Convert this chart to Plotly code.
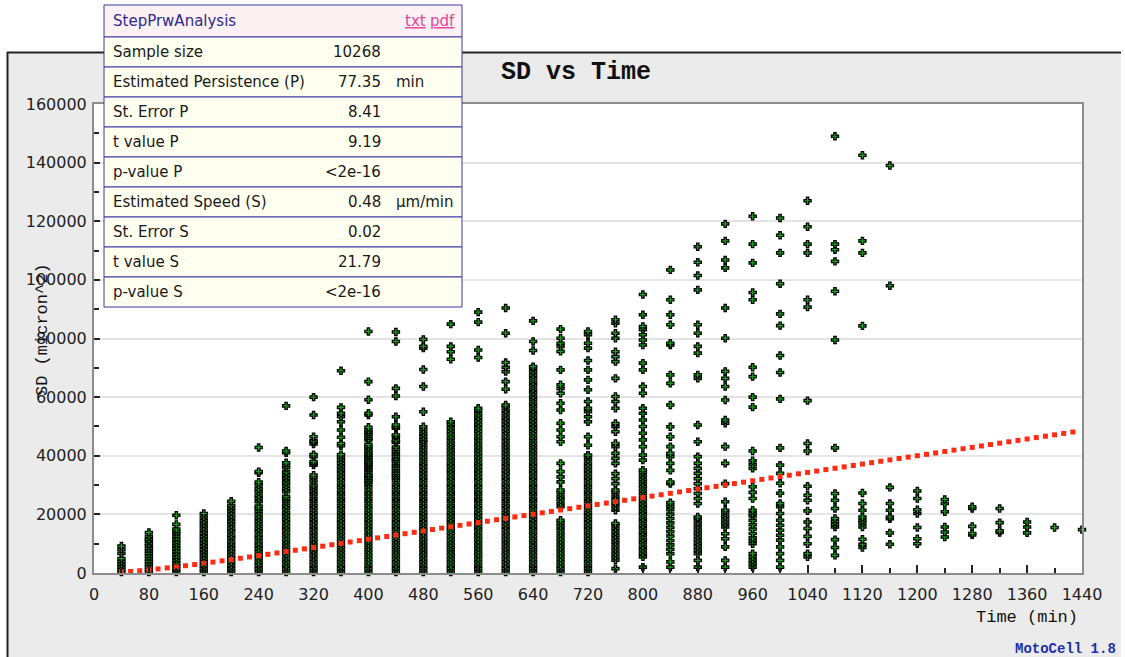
import numpy as np
import plotly.graph_objects as go

# ---- StepPrwAnalysis summary ----
sample_size = 10268
persistence_min = 77.35      # P
persistence_se = 8.41
persistence_t = 9.19
speed_um_min = 0.48          # S
speed_se = 0.02
speed_t = 21.79
p_value_text = "<2e-16"

# ---- SD (micron^2, in thousands) observed at each time lag (min) ----
sd_k_0040 = [0.3, 1.2, 2.1, 3.0, 3.9, 4.9, 6.7, 8.0, 9.2]
sd_k_0080 = [0.3, 1.2, 2.1, 3.0, 3.9, 4.8, 5.7, 6.6, 7.5, 8.4, 9.3, 10.0, 11.0, 11.5, 12.5, 13.8]
sd_k_0120 = [0.3, 1.3, 2.3, 3.3, 4.3, 5.3, 6.3, 7.3, 8.3, 9.3, 10.3, 11.3, 12.3, 13.3, 14.2, 15.0,
             16.6, 19.7]
sd_k_0160 = [0.3, 1.4, 2.5, 3.6, 4.7, 5.8, 6.9, 8.0, 9.1, 10.2, 11.3, 12.4, 13.5, 14.6, 15.7, 16.8,
             17.9, 19.1, 20.3]
sd_k_0200 = [0.3, 1.4, 2.6, 3.7, 4.9, 6.0, 7.2, 8.3, 9.5, 10.6, 11.8, 12.9, 14.1, 15.2, 16.4, 17.5,
             18.7, 19.8, 21.0, 22.1, 23.1, 24.5]
sd_k_0240 = [0.3, 1.4, 2.6, 3.7, 4.9, 6.0, 7.2, 8.3, 9.5, 10.6, 11.8, 12.9, 14.1, 15.2, 16.4, 17.5,
             18.7, 19.8, 21.0, 22.0, 22.8, 24.3, 25.5, 26.5, 27.7, 28.7, 30.0, 31.0, 34.2, 34.6, 42.8]
sd_k_0280 = [0.3, 1.5, 2.7, 3.9, 5.1, 6.3, 7.5, 8.7, 9.9, 11.1, 12.3, 13.5, 14.7, 15.9, 17.1, 18.3,
             19.5, 20.7, 21.9, 23.1, 24.3, 25.3, 26.2, 27.7, 28.8, 30.0, 31.1, 32.3, 33.4, 34.5,
             35.9, 36.8, 37.6, 41.0, 41.6, 57.0]
sd_k_0320 = [0.3, 1.5, 2.7, 3.9, 5.1, 6.3, 7.5, 8.7, 9.9, 11.1, 12.3, 13.5, 14.7, 15.9, 17.1, 18.3,
             19.5, 20.7, 21.9, 23.1, 24.3, 25.5, 26.7, 27.9, 29.0, 30.0, 31.4, 32.6, 33.4, 36.8,
             37.4, 38.0, 39.7, 40.4, 44.0, 44.8, 45.1, 46.5, 53.9, 60.0]
sd_k_0360 = [0.3, 1.5, 2.7, 3.9, 5.1, 6.3, 7.5, 8.7, 9.9, 11.1, 12.3, 13.5, 14.7, 15.9, 17.1, 18.3,
             19.5, 20.7, 21.9, 23.1, 24.3, 25.5, 26.7, 27.9, 29.1, 30.3, 31.5, 32.7, 33.9, 35.1,
             36.3, 37.4, 38.5, 39.5, 40.4, 43.4, 44.2, 46.3, 48.8, 51.6, 53.3, 54.5, 56.5, 69.0]
sd_k_0400 = [0.3, 1.5, 2.7, 3.9, 5.1, 6.3, 7.5, 8.7, 9.9, 11.1, 12.3, 13.5, 14.7, 15.9, 17.1, 18.3,
             19.5, 20.7, 21.9, 23.1, 24.3, 25.5, 26.7, 27.9, 29.1, 30.3, 31.1, 31.7, 32.3, 33.0,
             33.4, 34.2, 35.1, 35.7, 36.3, 36.9, 37.4, 37.9, 38.5, 39.3, 39.9, 40.4, 41.0, 41.6,
             42.5, 43.1, 43.9, 45.4, 45.9, 46.8, 47.5, 48.2, 48.8, 49.7, 53.9, 54.5, 59.1, 65.3, 82.4]
sd_k_0440 = [0.3, 1.5, 2.7, 3.9, 5.1, 6.3, 7.5, 8.7, 9.9, 11.1, 12.3, 13.5, 14.7, 15.9, 17.1, 18.3,
             19.5, 20.7, 21.9, 23.1, 24.3, 25.5, 26.7, 27.9, 29.1, 30.3, 31.5, 32.5, 33.3, 34.0,
             34.8, 35.7, 36.5, 37.4, 38.2, 38.8, 39.6, 40.6, 41.4, 42.2, 43.0, 44.5, 44.8, 45.4,
             46.7, 47.1, 49.4, 49.9, 50.5, 53.3, 60.4, 63.0, 79.0, 82.2]
sd_k_0480 = [0.3, 1.5, 2.7, 3.9, 5.1, 6.3, 7.5, 8.7, 9.9, 11.1, 12.3, 13.5, 14.7, 15.9, 17.1, 18.3,
             19.5, 20.7, 21.9, 23.1, 24.3, 25.5, 26.7, 27.9, 29.1, 30.3, 31.5, 32.7, 33.9, 35.1,
             36.3, 37.5, 38.7, 39.9, 41.1, 42.3, 43.5, 44.7, 45.4, 46.5, 47.6, 48.8, 49.9, 55.0,
             63.6, 69.4, 76.7, 77.3, 79.7]
sd_k_0520 = [0.3, 1.5, 2.7, 3.9, 5.1, 6.3, 7.5, 8.7, 9.9, 11.1, 12.3, 13.5, 14.7, 15.9, 17.1, 18.3,
             19.5, 20.7, 21.9, 23.1, 24.3, 25.5, 26.7, 27.9, 29.1, 30.3, 31.5, 32.7, 33.9, 35.1,
             36.3, 37.5, 38.7, 39.9, 41.1, 42.3, 43.5, 44.7, 45.9, 47.1, 48.3, 49.5, 50.7, 51.6,
             72.9, 75.5, 77.3, 84.9]
sd_k_0560 = [0.3, 1.5, 2.7, 3.9, 5.1, 6.3, 7.5, 8.7, 9.9, 11.1, 12.3, 13.5, 14.7, 15.9, 17.1, 18.3,
             19.5, 20.7, 21.9, 23.1, 24.3, 25.5, 26.7, 27.9, 29.1, 30.3, 31.5, 32.7, 33.9, 35.1,
             36.3, 37.5, 38.7, 39.9, 41.1, 42.3, 43.5, 44.7, 45.9, 47.1, 48.3, 49.5, 50.7, 51.9,
             53.1, 54.3, 55.5, 56.2, 73.5, 76.1, 85.6, 89.0]
sd_k_0600 = [0.3, 1.5, 2.7, 3.9, 5.1, 6.3, 7.5, 8.7, 9.9, 11.1, 12.3, 13.5, 14.7, 15.9, 17.1, 18.3,
             19.5, 20.7, 21.9, 23.1, 24.3, 25.5, 26.7, 27.9, 29.1, 30.3, 31.5, 32.7, 33.9, 35.1,
             36.3, 37.5, 38.7, 39.9, 41.1, 42.3, 43.5, 44.7, 45.9, 47.1, 48.3, 49.5, 50.7, 51.9,
             53.1, 54.3, 55.5, 56.7, 57.3, 62.7, 65.3, 68.7, 70.2, 71.8, 81.8, 90.4]
sd_k_0640 = [0.3, 1.5, 2.7, 3.9, 5.1, 6.3, 7.5, 8.7, 9.9, 11.1, 12.3, 13.5, 14.7, 15.9, 17.1, 18.3,
             19.5, 20.7, 21.9, 23.1, 24.3, 25.5, 26.7, 27.9, 29.1, 30.3, 31.5, 32.7, 33.9, 35.1,
             36.3, 37.5, 38.7, 39.9, 41.1, 42.3, 43.5, 44.7, 45.9, 47.1, 48.3, 49.5, 50.7, 51.9,
             53.1, 54.3, 55.5, 56.7, 57.9, 59.1, 60.3, 61.5, 62.7, 63.9, 65.1, 66.3, 67.5, 68.7,
             69.9, 70.4, 75.9, 79.0, 86.0]
sd_k_0680 = [0.3, 1.5, 2.7, 3.9, 5.1, 6.3, 7.5, 8.7, 9.9, 11.1, 12.3, 13.5, 14.7, 15.9, 17.1, 18.0,
             22.6, 23.8, 25.0, 26.2, 27.4, 28.3, 31.1, 32.8, 34.6, 37.4, 44.8, 46.5, 48.8, 51.1,
             55.6, 57.9, 61.3, 63.0, 64.2, 69.3, 75.6, 77.3, 78.4, 80.1, 83.2]
sd_k_0720 = [0.3, 1.5, 2.7, 3.9, 5.1, 6.3, 7.5, 8.7, 9.9, 11.1, 12.3, 13.5, 14.7, 15.9, 17.1, 18.3,
             19.5, 20.7, 21.9, 23.1, 24.3, 25.5, 26.7, 27.9, 29.1, 30.3, 31.5, 32.7, 33.9, 35.1,
             36.3, 37.5, 38.7, 39.9, 40.2, 43.6, 46.5, 51.6, 53.3, 55.0, 56.2, 58.5, 62.5, 65.9,
             69.3, 72.5, 76.7, 78.4, 81.3, 82.4]
sd_k_0760 = [1.5, 4.4, 5.6, 6.8, 8.0, 9.2, 10.4, 11.6, 12.8, 14.0, 15.2, 16.4, 16.9, 21.4, 22.6,
             23.8, 25.0, 26.2, 27.4, 28.3, 30.5, 32.2, 33.9, 37.4, 39.1, 40.8, 43.1, 44.2, 48.2,
             49.9, 51.0, 56.2, 58.5, 60.2, 66.4, 72.1, 73.8, 75.5, 80.1, 81.8, 85.2, 86.4]
sd_k_0800 = [2.0, 5.5, 6.7, 7.9, 9.1, 10.3, 11.5, 12.7, 13.9, 15.1, 16.3, 17.5, 18.7, 19.9, 21.1,
             22.3, 23.5, 24.7, 25.9, 27.1, 28.3, 29.5, 30.7, 31.9, 33.1, 34.3, 35.1, 38.5, 40.2,
             43.1, 45.4, 47.7, 50.0, 52.2, 54.5, 56.2, 61.3, 63.6, 69.3, 71.6, 77.8, 79.5, 81.3,
             83.0, 84.1, 88.1, 95.0]
sd_k_0840 = [2.0, 3.8, 6.6, 8.1, 9.6, 11.1, 12.6, 14.1, 15.6, 17.1, 18.6, 20.1, 21.6, 22.8, 24.0,
             30.5, 31.0, 35.0, 37.4, 39.7, 40.8, 43.1, 46.5, 49.9, 57.3, 64.7, 67.6, 77.8, 78.4,
             84.7, 88.1, 93.2, 103.4]
sd_k_0880 = [2.0, 4.3, 6.6, 7.8, 9.0, 10.2, 11.4, 12.6, 13.8, 15.0, 16.2, 17.4, 18.6, 19.1, 23.7,
             25.4, 27.1, 28.8, 30.5, 32.2, 34.0, 35.7, 37.4, 39.7, 44.8, 50.5, 66.4, 67.6, 75.0,
             77.3, 81.8, 84.7, 96.6, 101.5, 106.0, 111.3]
sd_k_0920 = [2.0, 4.3, 8.9, 11.7, 13.4, 15.7, 16.9, 18.1, 19.3, 20.5, 21.4, 24.3, 30.5, 37.4, 43.1,
             51.1, 52.2, 59.0, 63.6, 66.4, 68.8, 80.1, 90.4, 104.1, 106.8, 113.3, 119.1]
sd_k_0960 = [2.0, 3.2, 4.4, 5.5, 6.6, 10.0, 11.0, 12.0, 13.5, 15.0, 16.5, 18.0, 19.5, 20.3, 21.4,
             25.4, 27.5, 29.4, 35.7, 37.0, 38.3, 41.6, 56.6, 60.0, 67.0, 70.2, 93.2, 95.7, 105.8,
             112.2, 121.7]
sd_k_1000 = [2.0, 4.3, 6.6, 8.9, 11.2, 12.9, 14.6, 16.3, 18.0, 20.3, 22.6, 23.7, 27.2, 30.6, 34.0,
             36.8, 42.7, 59.4, 68.4, 74.2, 84.4, 88.4, 98.7, 109.2, 115.2, 121.1]
sd_k_1040 = [5.5, 6.6, 10.0, 12.5, 15.2, 17.4, 21.2, 24.8, 26.5, 29.6, 41.6, 44.2, 58.8, 90.7, 93.2,
             109.2, 112.2, 118.1, 127.0]
sd_k_1080 = [6.0, 8.7, 11.4, 15.7, 16.6, 17.5, 18.6, 22.0, 24.8, 27.1, 42.7, 79.5, 96.1, 106.3,
             110.3, 112.2, 149.0]
sd_k_1120 = [8.7, 9.8, 11.5, 15.7, 17.0, 18.0, 19.1, 21.4, 23.7, 27.3, 84.3, 109.2, 113.3, 142.5]
sd_k_1160 = [9.8, 13.7, 18.5, 19.1, 21.4, 23.7, 29.2, 98.0, 139.0]
sd_k_1200 = [10.0, 11.7, 15.5, 20.3, 21.6, 25.4, 28.0]
sd_k_1240 = [12.3, 14.0, 15.7, 20.9, 23.7, 25.1]
sd_k_1280 = [13.0, 13.5, 15.9, 22.0, 22.6]
sd_k_1320 = [13.8, 14.4, 17.2, 22.0]
sd_k_1360 = [13.7, 15.7, 17.4]
sd_k_1400 = [15.5]
sd_k_1440 = [14.8]

lag_columns = [
    (40, sd_k_0040), (80, sd_k_0080), (120, sd_k_0120), (160, sd_k_0160), (200, sd_k_0200),
    (240, sd_k_0240), (280, sd_k_0280), (320, sd_k_0320), (360, sd_k_0360), (400, sd_k_0400),
    (440, sd_k_0440), (480, sd_k_0480), (520, sd_k_0520), (560, sd_k_0560), (600, sd_k_0600),
    (640, sd_k_0640), (680, sd_k_0680), (720, sd_k_0720), (760, sd_k_0760), (800, sd_k_0800),
    (840, sd_k_0840), (880, sd_k_0880), (920, sd_k_0920), (960, sd_k_0960), (1000, sd_k_1000),
    (1040, sd_k_1040), (1080, sd_k_1080), (1120, sd_k_1120), (1160, sd_k_1160), (1200, sd_k_1200),
    (1240, sd_k_1240), (1280, sd_k_1280), (1320, sd_k_1320), (1360, sd_k_1360), (1400, sd_k_1400),
    (1440, sd_k_1440),
]

obs_t = [t for t, vals in lag_columns for _ in vals]
obs_sd = [v * 1000 for _, vals in lag_columns for v in vals]

# Persistent random walk (Fürth) fit, evaluated every 40/3 min (one frame)
fit_t = np.arange(3, 108) * 40.0 / 3.0
P, S = persistence_min, speed_um_min
fit_sd = 2 * S**2 * P * (fit_t - P * (1 - np.exp(-fit_t / P)))

# ---- layout geometry (pixels) ----
W, H = 1125, 657
L, R, T, B = 94, 1082, 104, 573


def fx(px):
    return (px - L) / (R - L)


def fy(py):
    return (B - py) / (B - T)


fig = go.Figure()
fig.add_trace(go.Scatter(
    x=obs_t, y=obs_sd, mode="markers", cliponaxis=False, hoverinfo="skip",
    marker=dict(symbol="cross", size=6, color="#1aa01a",
                line=dict(color="#000000", width=1.2)),
))
fig.add_trace(go.Scatter(
    x=fit_t, y=fit_sd, mode="markers", cliponaxis=False, hoverinfo="skip",
    marker=dict(symbol="square", size=5, color="#ff2b12", line=dict(width=0)),
))

shapes = [
    # grey panel behind the chart
    dict(type="rect", xref="paper", yref="paper", layer="below",
         x0=fx(7), x1=fx(1121), y0=fy(52), y1=fy(660),
         fillcolor="#ebebeb", line=dict(width=0)),
    dict(type="rect", xref="paper", yref="paper", layer="below",
         x0=0, x1=1, y0=0, y1=1, fillcolor="#ffffff", line=dict(width=0)),
    dict(type="line", xref="paper", yref="paper", x0=fx(7.5), x1=fx(7.5),
         y0=fy(52), y1=fy(660), line=dict(color="#222222", width=2)),
    dict(type="line", xref="paper", yref="paper", x0=fx(7), x1=fx(1121),
         y0=fy(52.5), y1=fy(52.5), line=dict(color="#222222", width=2)),
]

# ---- summary table ----
TL, TR = 104, 462
rows = [
    ("Sample size", str(sample_size), ""),
    ("Estimated Persistence (P)", f"{persistence_min:.2f}", "min"),
    ("St. Error P", f"{persistence_se:.2f}", ""),
    ("t value P", f"{persistence_t:.2f}", ""),
    ("p-value P", p_value_text, ""),
    ("Estimated Speed (S)", f"{speed_um_min:.2f}", "µm/min"),
    ("St. Error S", f"{speed_se:.2f}", ""),
    ("t value S", f"{speed_t:.2f}", ""),
    ("p-value S", p_value_text, ""),
]
border = dict(color="#3a3aa8", width=1)
shapes.append(dict(type="rect", xref="paper", yref="paper", layer="above",
                   x0=fx(TL), x1=fx(TR), y0=fy(37), y1=fy(5),
                   fillcolor="#fdf1f4", line=border))
for i in range(len(rows)):
    shapes.append(dict(type="rect", xref="paper", yref="paper", layer="above",
                       x0=fx(TL), x1=fx(TR), y0=fy(67 + 30 * i), y1=fy(37 + 30 * i),
                       fillcolor="#fffff0", line=border))

tfont = dict(family="DejaVu Sans", size=15, color="#1a1a1a")
ann = []
ann.append(dict(text="StepPrwAnalysis", x=fx(111), y=fy(21), xanchor="left", yanchor="middle",
                font=dict(family="DejaVu Sans", size=15, color="#2b2b8f")))
ann.append(dict(text="<u>txt</u>", x=fx(428), y=fy(21), xanchor="right", yanchor="middle",
                font=dict(family="DejaVu Sans", size=15, color="#e2449c")))
ann.append(dict(text="<u>pdf</u>", x=fx(457), y=fy(21), xanchor="right", yanchor="middle",
                font=dict(family="DejaVu Sans", size=15, color="#e2449c")))
for i, (lab, val, unit) in enumerate(rows):
    yc = fy(52 + 30 * i)
    ann.append(dict(text=lab, x=fx(111), y=yc, xanchor="left", yanchor="middle", font=tfont))
    ann.append(dict(text=val.replace("<", "&lt;"), x=fx(383), y=yc, xanchor="right",
                    yanchor="middle", font=tfont))
    if unit:
        ann.append(dict(text=unit, x=fx(394), y=yc, xanchor="left", yanchor="middle", font=tfont))

# ---- titles ----
ann.append(dict(text="<b>SD vs Time</b>", x=fx(576), y=fy(72), xanchor="center", yanchor="middle",
                font=dict(family="Liberation Mono", size=25, color="#111111")))
ann.append(dict(text="Time (min)", x=fx(1080), y=fy(617), xanchor="right", yanchor="middle",
                font=dict(family="Liberation Mono", size=17, color="#111111")))
ann.append(dict(text="SD (micron^2)", x=fx(42), y=fy(330), xanchor="center", yanchor="middle",
                textangle=-90, font=dict(family="Liberation Mono", size=17, color="#111111")))
ann.append(dict(text="<b>MotoCell 1.8</b>", x=fx(1118), y=fy(649), xanchor="right",
                yanchor="middle", font=dict(family="Liberation Mono", size=14, color="#1c2fa8")))
for a in ann:
    a.update(xref="paper", yref="paper", showarrow=False)

axis_font = dict(family="DejaVu Sans", size=16, color="#222222")
fig.update_layout(
    width=W, height=H, margin=dict(l=L, r=W - R, t=T, b=H - B, pad=0),
    paper_bgcolor="#ffffff", plot_bgcolor="#ffffff", showlegend=False,
    shapes=shapes, annotations=ann,
    xaxis=dict(range=[0, 1440], tickmode="array", tickvals=list(range(0, 1441, 80)),
               ticks="inside", ticklen=8, tickwidth=2, tickcolor="#222222",
               minor=dict(tickmode="array", tickvals=list(range(40, 1441, 80)), ticks="inside",
                          ticklen=5, tickwidth=2, tickcolor="#222222", showgrid=False),
               showgrid=False, zeroline=False, showline=True, mirror=True,
               linecolor="#8c8c8c", linewidth=2, tickfont=axis_font, ticklabelstandoff=6),
    yaxis=dict(range=[0, 160000], tickmode="array", tickvals=list(range(0, 160001, 20000)),
               tickformat="d", ticks="inside", ticklen=6, tickwidth=2, tickcolor="#222222",
               minor=dict(tickmode="array", tickvals=list(range(10000, 160001, 20000)),
                          ticks="inside", ticklen=5, tickwidth=2, tickcolor="#222222",
                          showgrid=False),
               showgrid=True, gridcolor="#e4e4e4", gridwidth=2, zeroline=False,
               showline=True, mirror=True, linecolor="#8c8c8c", linewidth=2,
               tickfont=axis_font, ticklabelstandoff=2),
)

fig.write_html("out.html")
